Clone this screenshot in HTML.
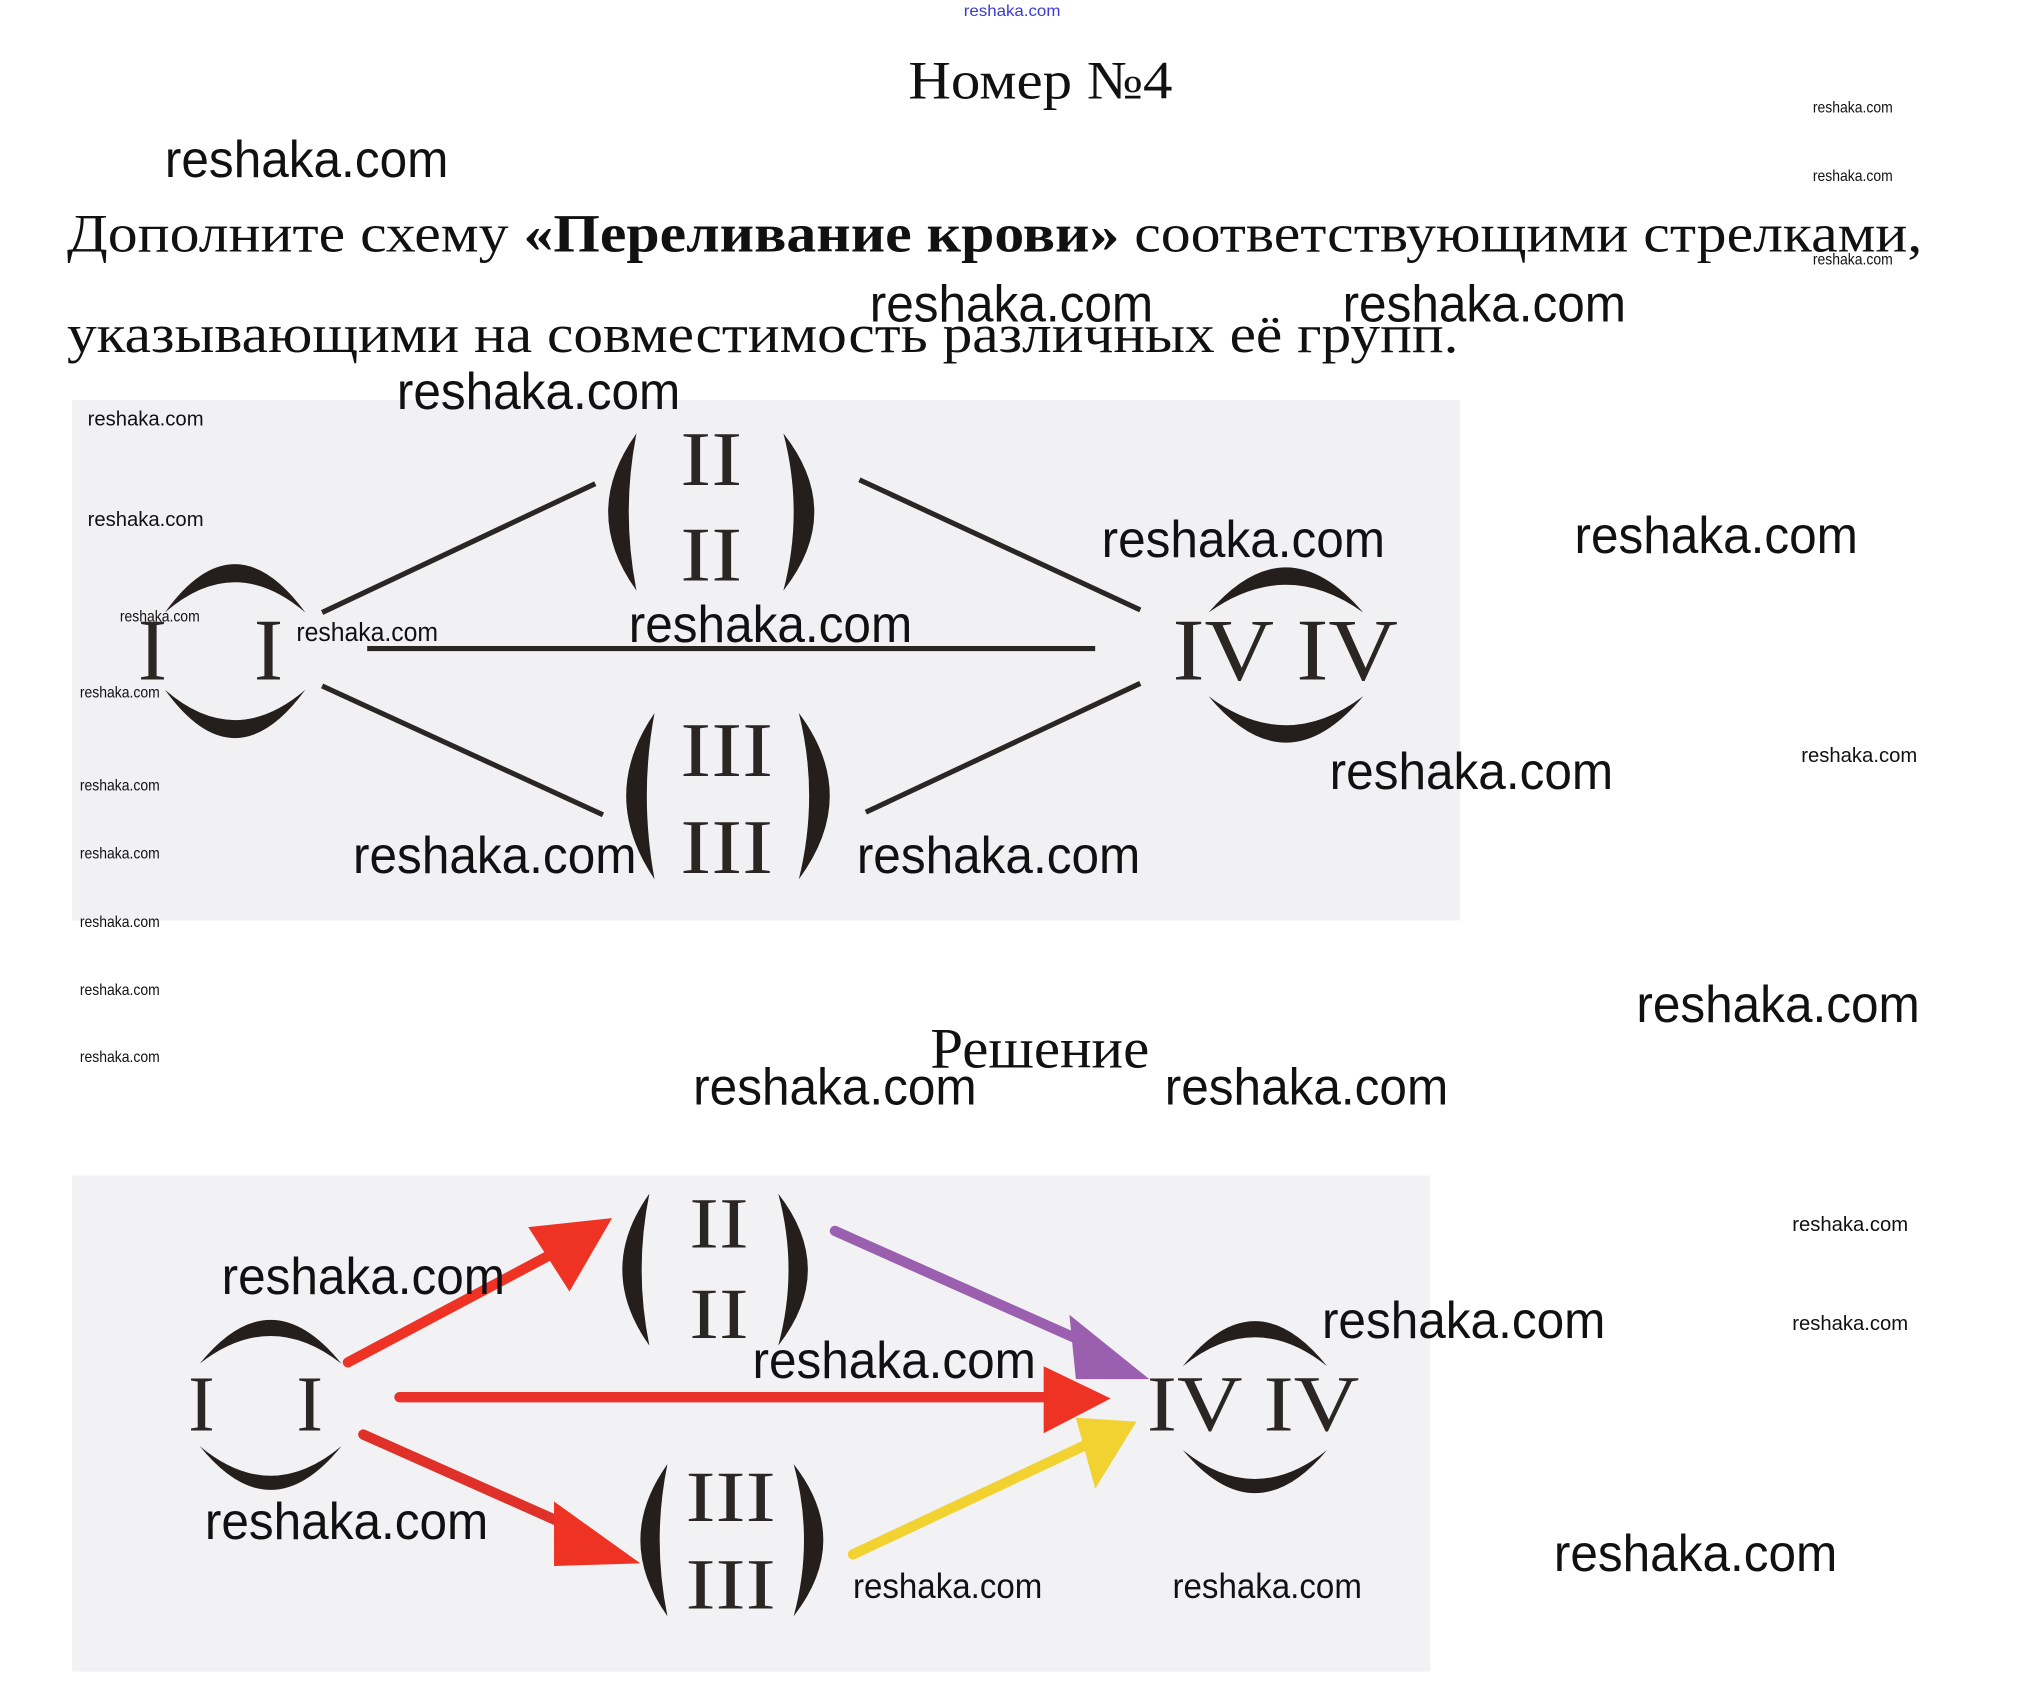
<!DOCTYPE html>
<html><head><meta charset="utf-8"><style>html,body{margin:0;padding:0;background:#fff}svg{display:block}</style></head><body>
<svg width="2019" height="1694" viewBox="0 0 1567 1314" xmlns="http://www.w3.org/2000/svg">
<rect width="1567" height="1314" fill="#fff"/>
<text x="748" y="12" font-family="Liberation Sans Narrow, Liberation Sans, sans-serif" font-size="12" fill="#3a3ad0" textLength="75" lengthAdjust="spacingAndGlyphs">reshaka.com</text>
<g font-family="Liberation Serif, serif" fill="#111">
<text x="705" y="76" font-size="42" textLength="205" lengthAdjust="spacingAndGlyphs">Номер №4</text>
<text x="52" y="195" font-size="42" textLength="1440" lengthAdjust="spacingAndGlyphs">Дополните схему <tspan font-weight="bold">«Переливание крови»</tspan> соответствующими стрелками,</text>
<text x="52" y="273" font-size="42" textLength="1080" lengthAdjust="spacingAndGlyphs">указывающими на совместимость различных её групп.</text>
<text x="722" y="828" font-size="44" textLength="170" lengthAdjust="spacingAndGlyphs">Решение</text>
</g>
<rect x="56" y="310" width="1077" height="404" fill="#f1f0f3"/>
<g stroke="#2a2624" stroke-width="4" fill="none">
<line x1="250" y1="475" x2="462" y2="375"/>
<line x1="285" y1="503" x2="850" y2="503"/>
<line x1="250" y1="532" x2="468" y2="632"/>
<line x1="667" y1="372" x2="885" y2="473"/>
<line x1="672" y1="630" x2="885" y2="530"/>
</g>
<g fill="#241e1c">
<path d="M128,475 Q182,400 237,475 Q182,428 128,475Z"/>
<path d="M128,535 Q182,610 237,535 Q182,582 128,535Z"/>
<path d="M938,475 Q998,405 1058,475 Q998,432 938,475Z"/>
<path d="M938,540 Q998,612 1058,540 Q998,585 938,540Z"/>
<path d="M494,336 Q450,397 494,458 Q482,397 494,336Z"/>
<path d="M608,336 Q656,397 608,458 Q624,397 608,336Z"/>
<path d="M508,553 Q464,617 508,682 Q496,617 508,553Z"/>
<path d="M620,553 Q668,617 620,682 Q636,617 620,553Z"/>
</g>
<g font-family="Liberation Serif, serif" fill="#2a2624">
<text x="107" y="527" font-size="68">I</text><text x="197" y="527" font-size="68">I</text>
<text x="910" y="527" font-size="68" textLength="175" lengthAdjust="spacingAndGlyphs">IV IV</text>
<text x="528" y="376" font-size="60" textLength="48" lengthAdjust="spacingAndGlyphs">II</text><text x="528" y="450" font-size="60" textLength="48" lengthAdjust="spacingAndGlyphs">II</text>
<text x="528" y="602" font-size="60" textLength="72" lengthAdjust="spacingAndGlyphs">III</text><text x="528" y="677" font-size="60" textLength="72" lengthAdjust="spacingAndGlyphs">III</text>
</g>
<rect x="56" y="912" width="1054" height="385" fill="#f2f1f4"/>
<g stroke-width="8" stroke-linecap="round">
<line x1="270" y1="1057" x2="430" y2="972" stroke="#ee3224"/>
<line x1="310" y1="1084" x2="815" y2="1084" stroke="#e8322a"/>
<line x1="282" y1="1113" x2="455" y2="1190" stroke="#e0302a"/>
<line x1="648" y1="955" x2="850" y2="1045" stroke="#9b5fb0"/>
<line x1="662" y1="1206" x2="845" y2="1120" stroke="#f2d230"/>
</g>
<g>
<path d="M410,952 L475,945 L442,1002 Z" fill="#ee3224"/>
<path d="M810,1060 L862,1085 L810,1112 Z" fill="#ee3224"/>
<path d="M430,1165 L497,1213 L430,1215 Z" fill="#ee3224"/>
<path d="M830,1020 L892,1070 L835,1070 Z" fill="#9b5fb0"/>
<path d="M835,1100 L882,1103 L850,1155 Z" fill="#f2d230"/>
</g>
<g fill="#241e1c">
<path d="M155,1058 Q210,990 265,1058 Q210,1015 155,1058Z"/>
<path d="M155,1122 Q210,1190 265,1122 Q210,1168 155,1122Z"/>
<path d="M918,1060 Q974,990 1030,1060 Q974,1015 918,1060Z"/>
<path d="M918,1125 Q974,1192 1030,1125 Q974,1170 918,1125Z"/>
<path d="M504,926 Q462,985 504,1044 Q492,985 504,926Z"/>
<path d="M604,926 Q650,985 604,1044 Q620,985 604,926Z"/>
<path d="M518,1136 Q476,1195 518,1254 Q506,1195 518,1136Z"/>
<path d="M616,1136 Q662,1195 616,1254 Q632,1195 616,1136Z"/>
</g>
<g font-family="Liberation Serif, serif" fill="#2a2624">
<text x="146" y="1110" font-size="62">I</text><text x="230" y="1110" font-size="62">I</text>
<text x="890" y="1110" font-size="62" textLength="165" lengthAdjust="spacingAndGlyphs">IV IV</text>
<text x="535" y="968" font-size="56" textLength="46" lengthAdjust="spacingAndGlyphs">II</text><text x="535" y="1038" font-size="56" textLength="46" lengthAdjust="spacingAndGlyphs">II</text>
<text x="532" y="1180" font-size="56" textLength="70" lengthAdjust="spacingAndGlyphs">III</text><text x="532" y="1248" font-size="56" textLength="70" lengthAdjust="spacingAndGlyphs">III</text>
</g>
<g font-family="Liberation Sans, sans-serif" fill="#111">
<g font-size="40">
<text x="128" y="137" textLength="220" lengthAdjust="spacingAndGlyphs">reshaka.com</text>
<text x="675" y="249" textLength="220" lengthAdjust="spacingAndGlyphs">reshaka.com</text>
<text x="1042" y="249" textLength="220" lengthAdjust="spacingAndGlyphs">reshaka.com</text>
<text x="308" y="317" textLength="220" lengthAdjust="spacingAndGlyphs">reshaka.com</text>
<text x="488" y="498" textLength="220" lengthAdjust="spacingAndGlyphs">reshaka.com</text>
<text x="855" y="432" textLength="220" lengthAdjust="spacingAndGlyphs">reshaka.com</text>
<text x="1222" y="429" textLength="220" lengthAdjust="spacingAndGlyphs">reshaka.com</text>
<text x="1032" y="612" textLength="220" lengthAdjust="spacingAndGlyphs">reshaka.com</text>
<text x="274" y="677" textLength="220" lengthAdjust="spacingAndGlyphs">reshaka.com</text>
<text x="665" y="677" textLength="220" lengthAdjust="spacingAndGlyphs">reshaka.com</text>
<text x="1270" y="793" textLength="220" lengthAdjust="spacingAndGlyphs">reshaka.com</text>
<text x="538" y="857" textLength="220" lengthAdjust="spacingAndGlyphs">reshaka.com</text>
<text x="904" y="857" textLength="220" lengthAdjust="spacingAndGlyphs">reshaka.com</text>
<text x="1026" y="1038" textLength="220" lengthAdjust="spacingAndGlyphs">reshaka.com</text>
<text x="172" y="1004" textLength="220" lengthAdjust="spacingAndGlyphs">reshaka.com</text>
<text x="584" y="1069" textLength="220" lengthAdjust="spacingAndGlyphs">reshaka.com</text>
<text x="159" y="1194" textLength="220" lengthAdjust="spacingAndGlyphs">reshaka.com</text>
<text x="1206" y="1219" textLength="220" lengthAdjust="spacingAndGlyphs">reshaka.com</text>
</g>
<g font-size="27">
<text x="662" y="1240" textLength="147" lengthAdjust="spacingAndGlyphs">reshaka.com</text>
<text x="910" y="1240" textLength="147" lengthAdjust="spacingAndGlyphs">reshaka.com</text>
</g>
<g font-size="20">
<text x="230" y="497" textLength="110" lengthAdjust="spacingAndGlyphs">reshaka.com</text>
</g>
<g font-size="16">
<text x="68" y="330" textLength="90" lengthAdjust="spacingAndGlyphs">reshaka.com</text>
<text x="68" y="408" textLength="90" lengthAdjust="spacingAndGlyphs">reshaka.com</text>
<text x="1398" y="591" textLength="90" lengthAdjust="spacingAndGlyphs">reshaka.com</text>
<text x="1391" y="955" textLength="90" lengthAdjust="spacingAndGlyphs">reshaka.com</text>
<text x="1391" y="1032" textLength="90" lengthAdjust="spacingAndGlyphs">reshaka.com</text>
</g>
<g font-size="12">
<text x="1407" y="87" textLength="62" lengthAdjust="spacingAndGlyphs">reshaka.com</text>
<text x="1407" y="140" textLength="62" lengthAdjust="spacingAndGlyphs">reshaka.com</text>
<text x="1407" y="205" textLength="62" lengthAdjust="spacingAndGlyphs">reshaka.com</text>
<text x="93" y="482" textLength="62" lengthAdjust="spacingAndGlyphs">reshaka.com</text>
<text x="62" y="541" textLength="62" lengthAdjust="spacingAndGlyphs">reshaka.com</text>
<text x="62" y="613" textLength="62" lengthAdjust="spacingAndGlyphs">reshaka.com</text>
<text x="62" y="666" textLength="62" lengthAdjust="spacingAndGlyphs">reshaka.com</text>
<text x="62" y="719" textLength="62" lengthAdjust="spacingAndGlyphs">reshaka.com</text>
<text x="62" y="772" textLength="62" lengthAdjust="spacingAndGlyphs">reshaka.com</text>
<text x="62" y="824" textLength="62" lengthAdjust="spacingAndGlyphs">reshaka.com</text>
</g>
</g>
</svg>
</body></html>
